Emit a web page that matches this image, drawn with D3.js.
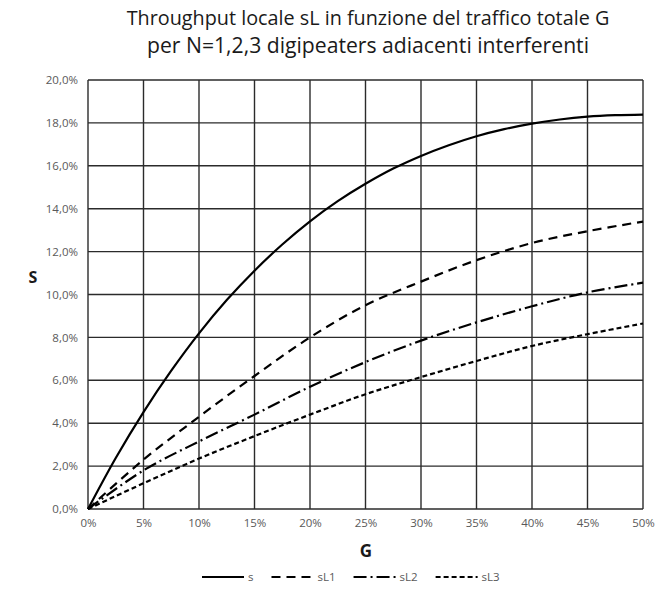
<!DOCTYPE html>
<html>
<head>
<meta charset="utf-8">
<script src="https://cdn.jsdelivr.net/npm/d3@7"></script>
<style>
  html, body { margin: 0; padding: 0; background: #fff; }
  svg { display: block; font-family: "Open Sans", "Liberation Sans", sans-serif; }
</style>
</head>
<body>
<svg id="chart" width="658" height="591"></svg>
<script>
// ---- data (fractions) ----
const titleLines = ["Throughput locale sL in funzione del traffico totale G",
                    "per N=1,2,3  digipeaters adiacenti interferenti"];
const xLabel = "G";
const yLabel = "S";
const xTicks = [0, 0.05, 0.10, 0.15, 0.20, 0.25, 0.30, 0.35, 0.40, 0.45, 0.50];
const yTicks = [0, 0.02, 0.04, 0.06, 0.08, 0.10, 0.12, 0.14, 0.16, 0.18, 0.20];

const gS  = [0, 0.025, 0.05, 0.075, 0.10, 0.125, 0.15, 0.175, 0.20, 0.225, 0.25, 0.275, 0.30, 0.325, 0.35, 0.375, 0.40, 0.425, 0.45, 0.475, 0.50];
const sVals = [0, 0.0238, 0.0452, 0.0645, 0.0819, 0.0974, 0.1111, 0.1233, 0.1341, 0.1435, 0.1516, 0.1587, 0.1646, 0.1696, 0.1738, 0.1771, 0.1797, 0.1816, 0.1829, 0.1836, 0.1839];

const gL  = [0, 0.05, 0.10, 0.15, 0.20, 0.25, 0.30, 0.35, 0.40, 0.45, 0.50];
const sL1 = [0, 0.023, 0.043, 0.062, 0.080, 0.095, 0.106, 0.116, 0.124, 0.1295, 0.134];
const sL2 = [0, 0.018, 0.0315, 0.044, 0.057, 0.0685, 0.0785, 0.087, 0.0945, 0.101, 0.1055];
const sL3 = [0, 0.012, 0.0235, 0.034, 0.044, 0.0535, 0.0615, 0.069, 0.076, 0.0815, 0.0865];

const seriesNames = ["s", "sL1", "sL2", "sL3"];
const seriesDash  = [null, "9,6", "13,4,2,4", "5,3"];

const series = [
  { name: seriesNames[0], x: gS, y: sVals, dash: seriesDash[0] },
  { name: seriesNames[1], x: gL, y: sL1,  dash: seriesDash[1] },
  { name: seriesNames[2], x: gL, y: sL2,  dash: seriesDash[2] },
  { name: seriesNames[3], x: gL, y: sL3,  dash: seriesDash[3] }
];

// ---- layout ----
const svg = d3.select("#chart");
const plot = { left: 88, right: 643, top: 80, bottom: 509 };
const x = d3.scaleLinear().domain([0, 0.5]).range([plot.left, plot.right]);
const y = d3.scaleLinear().domain([0, 0.2]).range([plot.bottom, plot.top]);

const gridColor = "#2b2b2b";
const labelColor = "#595959";

// title
const title = svg.append("g");
[25, 53].forEach((yy, i) => {
  title.append("text")
    .attr("x", 368).attr("y", yy)
    .attr("text-anchor", "middle")
    .attr("fill", "#1a1a1a")
    .style("font-size", "18px")
    .text(titleLines[i]);
});
const targetW = [483, 442];
title.selectAll("text").each(function(d, i) {
  const w = this.getComputedTextLength();
  const fs = 18 * targetW[i] / w;
  d3.select(this).style("font-size", fs.toFixed(2) + "px");
});

// grid
const grid = svg.append("g");
grid.selectAll("line.h").data(yTicks).enter().append("line")
  .attr("x1", plot.left).attr("x2", plot.right)
  .attr("y1", d => y(d)).attr("y2", d => y(d))
  .attr("stroke", gridColor).attr("stroke-width", 1.4);
grid.selectAll("line.v").data(xTicks).enter().append("line")
  .attr("y1", plot.top).attr("y2", plot.bottom)
  .attr("x1", d => x(d)).attr("x2", d => x(d))
  .attr("stroke", gridColor).attr("stroke-width", 1.4);

// y axis labels
const fmtY = d => (d * 100).toFixed(1).replace(".", ",") + "%";
const yAxis = d3.axisLeft(y).tickValues(yTicks).tickFormat(fmtY).tickSize(0).tickPadding(10);
const ya = svg.append("g").attr("transform", `translate(${plot.left},0)`).call(yAxis);
ya.select(".domain").remove();
ya.selectAll("text").attr("fill", labelColor).style("font-size", "11.5px").style("font-family", "'Open Sans', sans-serif");

// x axis labels
const fmtX = d => Math.round(d * 100) + "%";
const xAxis = d3.axisBottom(x).tickValues(xTicks).tickFormat(fmtX).tickSize(0).tickPadding(10);
const xa = svg.append("g").attr("transform", `translate(0,${plot.bottom})`).call(xAxis);
xa.select(".domain").remove();
xa.selectAll("text").attr("fill", labelColor).style("font-size", "11.5px").style("font-family", "'Open Sans', sans-serif");

// axis titles
svg.append("text").attr("x", 33).attr("y", 283)
  .attr("text-anchor", "middle").attr("font-weight", "bold")
  .style("font-size", "16px").attr("fill", "#1a1a1a").text(yLabel);
svg.append("text").attr("x", 366).attr("y", 557)
  .attr("text-anchor", "middle").attr("font-weight", "bold")
  .style("font-size", "17px").attr("fill", "#1a1a1a").text(xLabel);

// lines
const line = d3.line().curve(d3.curveCatmullRom.alpha(0.5));
svg.append("g").selectAll("path").data(series).enter().append("path")
  .attr("d", s => line(s.x.map((g, i) => [x(g), y(s.y[i])])))
  .attr("fill", "none")
  .attr("stroke", "#000")
  .attr("stroke-width", 2.2)
  .attr("stroke-dasharray", s => s.dash);

// legend
const legend = svg.append("g");
let lx = 202;
const ly = 577;
series.forEach(s => {
  legend.append("line")
    .attr("x1", lx).attr("x2", lx + 42).attr("y1", ly).attr("y2", ly)
    .attr("stroke", "#000").attr("stroke-width", 2.2)
    .attr("stroke-dasharray", s.dash);
  const t = legend.append("text")
    .attr("x", lx + 46).attr("y", ly + 4)
    .attr("fill", labelColor).style("font-size", "11.5px")
    .text(s.name);
  lx = lx + 46 + t.node().getComputedTextLength() + 18;
});
</script>
</body>
</html>
